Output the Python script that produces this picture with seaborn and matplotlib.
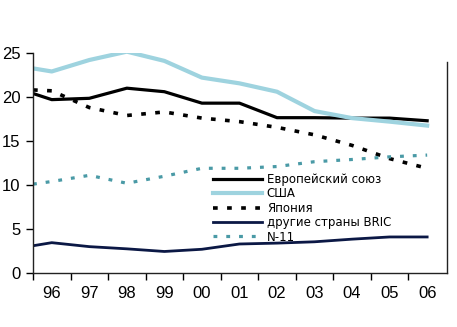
import matplotlib
matplotlib.use("Agg")
import matplotlib.pyplot as plt
import seaborn as sns
import pandas as pd

# positions: first point is the value at the left edge (start), then years 96..06
years = ["96", "97", "98", "99", "00", "01", "02", "03", "04", "05", "06"]
xpos = [-0.5, 0, 1, 2, 3, 4, 5, 6, 7, 8, 9, 10]

eu = [20.4, 19.7, 19.85, 21.0, 20.6, 19.3, 19.3, 17.65, 17.65, 17.6, 17.6, 17.3]
usa = [23.25, 22.9, 24.2, 25.15, 24.1, 22.2, 21.55, 20.6, 18.4, 17.6, 17.2, 16.75]
japan = [20.8, 20.7, 18.8, 17.9, 18.3, 17.6, 17.2, 16.55, 15.7, 14.5, 13.0, 11.9]
bric = [3.1, 3.45, 3.0, 2.75, 2.45, 2.7, 3.3, 3.4, 3.55, 3.85, 4.1, 4.1]
n11 = [10.1, 10.4, 11.1, 10.2, 11.0, 11.9, 11.9, 12.1, 12.65, 12.9, 13.2, 13.4]

labels = ["Европейский союз", "США", "Япония", "другие страны BRIC", "N-11"]
series = [eu, usa, japan, bric, n11]
colors = ["#000000", "#9ed3df", "#000000", "#0b1845", "#4a9aa6"]
widths = [2.3, 3.0, 2.6, 2.0, 2.3]
styles = ["-", "-", (0, (1.3, 2.6)), "-", (0, (1.2, 2.8))]

df = pd.DataFrame({"x": xpos * len(series),
                   "value": sum(series, []),
                   "series": sum([[l] * len(xpos) for l in labels], [])})

fig = plt.figure(figsize=(4.57, 3.27), dpi=100)
ax = fig.add_axes([0.0722, 0.165, 0.906, 0.673])

for lab, col, lw, ls in zip(labels, colors, widths, styles):
    sub = df[df["series"] == lab]
    sns.lineplot(data=sub, x="x", y="value", ax=ax, color=col, linewidth=lw,
                 linestyle=ls, label=lab, clip_on=True)

ax.set_xlim(-0.5, 10.53)
ax.set_ylim(0, 25)
ax.set_xlabel("")
ax.set_ylabel("")
ax.set_xticks([i - 0.5 for i in range(11)])
ax.set_xticklabels([])
ax.set_xticks(list(range(11)), minor=True)
ax.set_xticklabels(years, minor=True, fontsize=12, family="Liberation Sans")
ax.tick_params(axis="x", which="major", length=5, width=1, direction="out")
ax.tick_params(axis="x", which="minor", length=0, pad=9)
ax.set_yticks([0, 5, 10, 15, 20, 25])
ax.set_yticklabels(["0", "5", "10", "15", "20", "25"], fontsize=12, family="Liberation Sans")
ax.tick_params(axis="y", length=5, width=1, direction="out", pad=4)

ax.spines["top"].set_visible(False)
ax.spines["right"].set_bounds(0, 24)
for s in ["left", "right", "bottom"]:
    ax.spines[s].set_linewidth(1)
    ax.spines[s].set_color("#222222")

leg = ax.legend(loc="upper left", bbox_to_anchor=(0.435, 0.455), frameon=False,
                fontsize=8.5, handlelength=4.1, handletextpad=0.45,
                labelspacing=0.12, borderpad=0, borderaxespad=0)

fig.savefig("out.png", dpi=100)
